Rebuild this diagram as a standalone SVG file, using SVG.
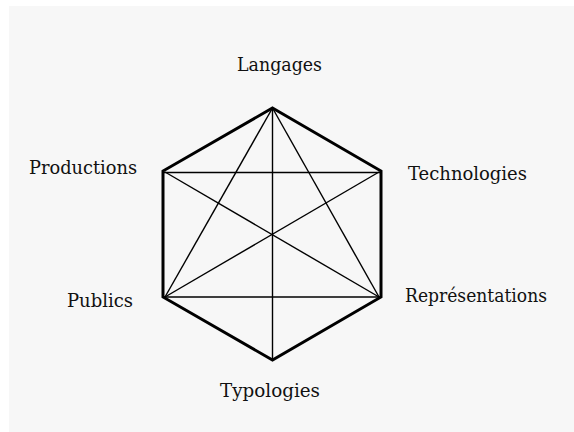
<svg xmlns="http://www.w3.org/2000/svg" width="574" height="432" viewBox="0 0 574 432">
<style>
.lbl{font-family:"DejaVu Serif","Liberation Serif",serif;font-size:18px;fill:#111}
.hex{fill:none;stroke:#000;stroke-width:3;stroke-linejoin:miter}
.diag{stroke:#000;stroke-width:1.4;fill:none}
</style>
<rect x="0" y="0" width="574" height="432" fill="#ffffff"/>
<rect x="9" y="6" width="565" height="426" fill="#f7f7f7"/>
<g id="connectors">
<line class="diag" x1="272.5" y1="108" x2="272.5" y2="360"/>
<line class="diag" x1="163" y1="172.5" x2="381" y2="172.5"/>
<line class="diag" x1="163" y1="297" x2="381" y2="297"/>
<line class="diag" x1="272.5" y1="108" x2="165" y2="297"/>
<line class="diag" x1="272.5" y1="108" x2="379" y2="297"/>
<line class="diag" x1="165" y1="172" x2="379" y2="297"/>
<line class="diag" x1="379" y1="172" x2="165" y2="297"/>
<polygon class="hex" points="272.5,108 381,171 381,297 272.5,360 163,297 163,171"/>
</g>
<g id="langages"><text class="lbl" x="237" y="71" textLength="85" lengthAdjust="spacingAndGlyphs">Langages</text></g>
<g id="technologies"><text class="lbl" x="408" y="180" textLength="119" lengthAdjust="spacingAndGlyphs">Technologies</text></g>
<g id="representations"><text class="lbl" x="405" y="302" textLength="142" lengthAdjust="spacingAndGlyphs">Représentations</text></g>
<g id="typologies"><text class="lbl" x="220" y="397" textLength="100" lengthAdjust="spacingAndGlyphs">Typologies</text></g>
<g id="publics"><text class="lbl" x="67" y="307" textLength="66" lengthAdjust="spacingAndGlyphs">Publics</text></g>
<g id="productions"><text class="lbl" x="29" y="174" textLength="108" lengthAdjust="spacingAndGlyphs">Productions</text></g>
</svg>
